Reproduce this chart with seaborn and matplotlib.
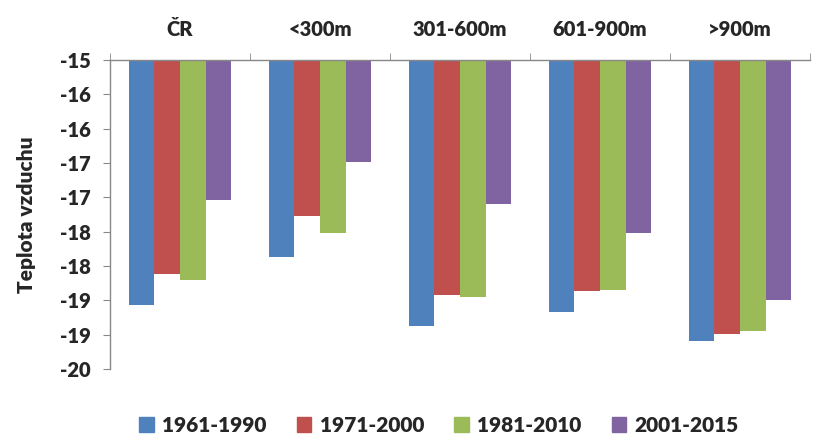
import matplotlib
matplotlib.use('Agg')
import matplotlib.pyplot as plt
import matplotlib.patches as mpatches
import numpy as np
import pandas as pd
import seaborn as sns

categories = ['ČR', '<300m', '301-600m', '601-900m', '>900m']
periods = ['1961-1990', '1971-2000', '1981-2010', '2001-2015']
colors = ['#4F81BD', '#C0504D', '#9BBB59', '#8064A2']

t_1961_1990 = [-18.57, -17.87, -18.87, -18.67, -19.10]
t_1971_2000 = [-18.12, -17.27, -18.43, -18.37, -18.99]
t_1981_2010 = [-18.20, -17.52, -18.45, -18.35, -18.95]
t_2001_2015 = [-17.04, -16.49, -17.10, -17.52, -18.50]

yticks = [-15, -15.5, -16, -16.5, -17, -17.5, -18, -18.5, -19, -19.5]
ytick_labels = ['-15', '-16', '-16', '-17', '-17', '-18', '-18', '-19', '-19', '-20']

series = [t_1961_1990, t_1971_2000, t_1981_2010, t_2001_2015]
rows = []
for p, vals in zip(periods, series):
    for c, v in zip(categories, vals):
        rows.append({'kategorie': c, 'obdobi': p, 'teplota': v})
df = pd.DataFrame(rows)

sns.set_style('white')
plt.rcParams['font.family'] = ['Lato', 'DejaVu Sans']
plt.rcParams['font.weight'] = 'bold'

fig = plt.figure(figsize=(8.13, 4.36), dpi=100)
ax = fig.add_axes([0.1353, 0.154, 0.861, 0.708])

sns.barplot(data=df, x='kategorie', y='teplota', hue='obdobi',
            order=categories, hue_order=periods, palette=colors, saturation=1,
            width=0.73, linewidth=0, errorbar=None, legend=False, ax=ax)

ax.set_ylim(-19.5, -15)
ax.set_xlim(-0.5, len(categories) - 0.5)
ax.set_yticks(yticks)
ax.set_yticklabels(ytick_labels)

ax.xaxis.tick_top()
ax.set_xticks(range(len(categories)))
ax.set_xticklabels(categories)
ax.set_xticks(np.arange(-0.5, len(categories)), minor=True)
ax.tick_params(axis='x', which='major', length=0, pad=15, labelsize=14.5)
ax.tick_params(axis='x', which='minor', length=5, color='#888888', direction='out')
ax.tick_params(axis='y', length=5, color='#888888', direction='out', pad=9, labelsize=14.5, left=True)
for lab in ax.get_xticklabels() + ax.get_yticklabels():
    lab.set_fontweight('heavy')

for s in ['right', 'bottom']:
    ax.spines[s].set_visible(False)
for s in ['left', 'top']:
    ax.spines[s].set_color('#888888')
    ax.spines[s].set_linewidth(1)

ax.set_xlabel('')
ax.set_ylabel('Teplota vzduchu', fontsize=15, fontweight='heavy', labelpad=17)

handles = [mpatches.Patch(color=c, label=p) for c, p in zip(colors, periods)]
fig.legend(handles=handles, loc='center', bbox_to_anchor=(0.54, 0.025), ncol=4,
           frameon=False, handlelength=0.7, handleheight=0.7,
           handletextpad=0.4, columnspacing=1.45, prop={'weight': 'heavy', 'size': 15})

fig.savefig('out.png', dpi=100)
